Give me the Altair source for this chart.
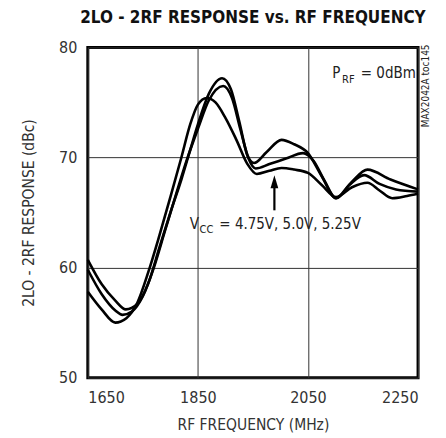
import altair as alt
import pandas as pd

# ---- data ----
freq_a = [1650,1675,1700,1720,1740,1760,1780,1800,1820,1836,1850,1866,1882,1900,1920,1940,1957,1980,2002,2025,2050,2075,2101,2130,2158,2180,2203,2230,2250]
resp_a = [57.8,56.2,55.0,55.4,56.8,59.6,62.9,66.4,70.0,73.0,74.8,75.4,75.0,73.6,71.6,69.4,68.5,68.8,69.05,68.9,68.6,67.5,66.4,67.3,67.7,67.0,66.3,66.5,66.7]

freq_b = [1650,1675,1700,1719,1740,1760,1780,1800,1820,1835,1850,1870,1894,1910,1925,1940,1952,1975,2002,2025,2050,2075,2101,2130,2158,2200,2250]
resp_b = [60.7,58.5,57.0,56.2,56.7,58.6,61.8,65.0,68.0,70.5,73.0,75.8,77.2,76.2,73.3,70.2,69.5,70.5,71.6,71.2,70.4,68.3,66.3,67.8,68.9,68.0,67.1]

freq_c = [1650,1675,1700,1713,1730,1750,1770,1790,1810,1830,1850,1870,1896,1912,1927,1942,1955,1980,2010,2041,2060,2080,2101,2125,2152,2180,2210,2250]
resp_c = [59.8,57.6,56.1,55.7,56.0,57.4,60.0,63.3,66.6,69.8,72.6,75.2,76.5,75.4,72.6,69.9,69.0,69.4,69.9,70.4,69.7,67.9,66.3,67.5,68.4,67.6,67.1,66.9]

x_ticks = [1650, 1850, 2050, 2250]
y_ticks = [50, 60, 70, 80]

FONT = "DejaVu Sans Condensed, DejaVu Sans, sans-serif"

rows = []
for name, fs, rs in (("4.75V", freq_a, resp_a), ("5.0V", freq_b, resp_b), ("5.25V", freq_c, resp_c)):
    for f, r in zip(fs, rs):
        rows.append({"series": name, "freq": f, "resp": r})
df = pd.DataFrame(rows)

xs = alt.Scale(domain=[1650, 2250], nice=False, zero=False)
ys = alt.Scale(domain=[50, 80], nice=False, zero=False)

lines = alt.Chart(df).mark_line(color="black", strokeWidth=2.6, interpolate="monotone").encode(
    x=alt.X("freq:Q", scale=xs,
            axis=alt.Axis(values=x_ticks, format="d", title="RF FREQUENCY (MHz)",
                          labelPadding=12, titlePadding=12)),
    y=alt.Y("resp:Q", scale=ys,
            axis=alt.Axis(values=y_ticks, format="d", title="2LO - 2RF RESPONSE (dBc)",
                          labelPadding=11, titlePadding=22)),
    detail="series:N",
)

# annotation texts (data coordinates)
def txt(x, y, s, size, align="left", baseline="alphabetic", weight="normal"):
    d = pd.DataFrame({"freq": [x], "resp": [y], "t": [s]})
    return alt.Chart(d).mark_text(font=FONT, fontSize=size, align=align, baseline=baseline,
                                  fontWeight=weight, color="#222").encode(
        x="freq:Q", y="resp:Q", text="t:N")

ann = [
    txt(2094, 77.2, "P", 15),
    txt(2112, 76.8, "RF", 11),
    txt(2146, 77.2, "= 0dBm", 15),
    txt(1835, 63.5, "V", 15),
    txt(1853, 63.1, "CC", 11),
    txt(1889, 63.5, "= 4.75V, 5.0V, 5.25V", 15),
]

arrow_shaft = alt.Chart(pd.DataFrame({"freq": [1989], "resp": [65.2], "resp2": [67.6]})).mark_rule(
    color="black", strokeWidth=2.2).encode(x="freq:Q", y="resp:Q", y2="resp2:Q")
arrow_head = alt.Chart(pd.DataFrame({"freq": [1989], "resp": [67.8]})).mark_point(
    shape="M0,-1L0.6,1L-0.6,1Z", size=169, filled=True, color="black", opacity=1).encode(
    x="freq:Q", y="resp:Q")

side = alt.Chart(pd.DataFrame({"t": ["MAX2042A toc145"]})).mark_text(
    font=FONT, fontSize=10, angle=270, align="right", baseline="middle", color="#222").encode(
    x=alt.value(339), y=alt.value(-3), text="t:N")

title = alt.Chart(pd.DataFrame({"t": ["2LO - 2RF RESPONSE vs. RF FREQUENCY"]})).mark_text(
    font=FONT, fontSize=17, fontWeight="bold", align="center", baseline="middle", color="#111").encode(
    x=alt.value(165.5), y=alt.value(-29), text="t:N")

chart = alt.layer(lines, *ann, arrow_shaft, arrow_head, side, title).properties(
    width=331, height=331,
    autosize="none",
    padding={"left": 80, "top": 39, "right": 20, "bottom": 60},
).configure_view(stroke="black", strokeWidth=3).configure_axis(
    domain=False, ticks=False, grid=True, gridColor="#333", gridWidth=1, gridOpacity=1,
    labelFont=FONT, labelFontSize=16, labelColor="#333",
    titleFont=FONT, titleFontSize=15.5, titleFontWeight="normal", titleColor="#333",
)

chart.save("out.html", embed_options={"renderer": "svg", "actions": False})
